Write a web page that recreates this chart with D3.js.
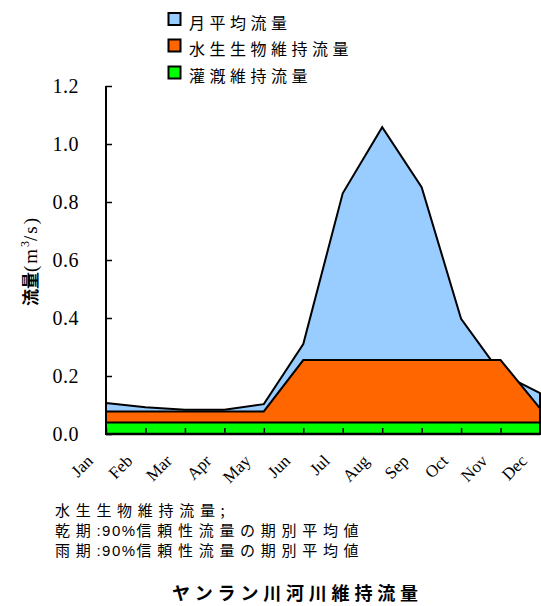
<!DOCTYPE html>
<html>
<head>
<meta charset="utf-8">
<script src="https://cdn.jsdelivr.net/npm/d3@7/dist/d3.min.js"></script>
<style>
  html, body { margin: 0; padding: 0; background: #fff; }
  svg { display: block; }
</style>
</head>
<body>
<script>
// ---- data ----
const months = ["Jan","Feb","Mar","Apr","May","Jun","Jul","Aug","Sep","Oct","Nov","Dec"];
const monthlyFlow    = [0.107, 0.092, 0.084, 0.084, 0.103, 0.31, 0.83, 1.058, 0.851, 0.397, 0.21, 0.141];
const aquaticFlow    = [0.078, 0.078, 0.078, 0.078, 0.078, 0.255, 0.255, 0.255, 0.255, 0.255, 0.255, 0.088];
const irrigationFlow = [0.04, 0.04, 0.04, 0.04, 0.04, 0.04, 0.04, 0.04, 0.04, 0.04, 0.04, 0.04];
const yTicks = [0, 0.2, 0.4, 0.6, 0.8, 1.0, 1.2];
const seriesNames = ["月平均流量", "水生生物維持流量", "灌漑維持流量"];
const seriesColors = ["#99CCFF", "#FF6600", "#00FF00"];
const noteHeader = "水生生物維持流量;";
const noteRows = [["乾期", ":90%", "信頼性流量の期別平均値"], ["雨期", ":90%", "信頼性流量の期別平均値"]];
const chartTitle = "ヤンラン川河川維持流量";
const yTitle = ["流量", "(m", "3", "/s)"];

// ---- layout ----
const W = 541, H = 606;
const CJK = "'Noto Sans CJK JP', 'Noto Sans CJK SC', sans-serif";
const SERIF = "'Liberation Serif', 'Times New Roman', serif";

const svg = d3.select("body").append("svg").attr("width", W).attr("height", H);

const x = d3.scalePoint().domain(months).range([106, 540]);
const y = d3.scaleLinear().domain([0, 1.2]).range([434, 86]);

const seriesData = [monthlyFlow, aquaticFlow, irrigationFlow];
const area = d3.area()
  .x((d, i) => x(months[i]))
  .y0(y(0))
  .y1(d => y(d));

seriesData.forEach((vals, k) => {
  svg.append("path")
    .datum(vals)
    .attr("d", area)
    .attr("fill", seriesColors[k])
    .attr("stroke", "#000")
    .attr("stroke-width", 2)
    .attr("stroke-linejoin", "miter");
});

// y axis (ticks pointing inward)
const yAxis = svg.append("g").attr("transform", `translate(${x(months[0])},0)`)
  .call(d3.axisRight(y).tickValues(yTicks).tickSize(6).tickFormat(""));
yAxis.select(".domain").attr("stroke", "#000").attr("stroke-width", 2).attr("d", `M0,${y(1.2)}V${y(0)}`);
yAxis.selectAll(".tick line").attr("stroke", "#000").attr("stroke-width", 1.5);

svg.append("g").selectAll("text").data(yTicks).join("text")
  .attr("x", 79)
  .attr("y", d => y(d))
  .attr("dy", "0.35em")
  .attr("text-anchor", "end")
  .attr("font-family", SERIF)
  .attr("font-size", 20)
  .attr("letter-spacing", 0.5)
  .attr("fill", "#000")
  .text(d => d.toFixed(1));

// x axis (ticks pointing inward/up)
const xAxis = svg.append("g").attr("transform", `translate(0,${y(0)})`)
  .call(d3.axisTop(x).tickSize(6).tickFormat(""));
xAxis.select(".domain").attr("stroke", "#000").attr("stroke-width", 2.5).attr("d", `M${x(months[0])},0H${x(months[11])}`);
xAxis.selectAll(".tick line").attr("stroke", "#000").attr("stroke-width", 1.5);

svg.append("g").selectAll("text").data(months).join("text")
  .attr("transform", d => `translate(${x(d) - 12},${y(0) + 28}) rotate(-45)`)
  .attr("text-anchor", "end")
  .style("font-family", SERIF)
  .style("font-size", "17px")
  .attr("fill", "#000")
  .text(d => d);

// y title
const yt = svg.append("text")
  .attr("transform", "translate(37,261) rotate(-90)")
  .attr("text-anchor", "middle")
  .attr("fill", "#000");
yt.append("tspan").attr("font-family", CJK).attr("font-weight", "bold").attr("font-size", 17).text(yTitle[0]);
yt.append("tspan").attr("font-family", SERIF).attr("font-size", 19).attr("letter-spacing", 2).text(yTitle[1]);
yt.append("tspan").attr("font-family", SERIF).attr("font-size", 12).attr("dy", -8).text(yTitle[2]);
yt.append("tspan").attr("font-family", SERIF).attr("font-size", 19).attr("dy", 8).attr("letter-spacing", 2).text(yTitle[3]);

// legend
const leg = svg.append("g");
const legY = [19.5, 46, 73];
seriesNames.forEach((name, i) => {
  leg.append("rect")
    .attr("x", 168.5).attr("y", legY[i] - 6.5)
    .attr("width", 12).attr("height", 12)
    .attr("fill", seriesColors[i])
    .attr("stroke", "#000").attr("stroke-width", 2);
  leg.append("text")
    .attr("x", 189).attr("y", legY[i] + 9)
    .attr("font-family", CJK).attr("font-size", 16)
    .attr("letter-spacing", 4.5)
    .attr("fill", "#000")
    .text(name);
});

// notes
const notes = svg.append("g").attr("font-family", CJK).attr("font-size", 15).attr("fill", "#000");
notes.append("text").attr("x", 55).attr("y", 515.5).attr("letter-spacing", 5.7).text(noteHeader);
noteRows.forEach((row, i) => {
  const t = notes.append("text").attr("x", 55).attr("y", 535.5 + i * 20);
  t.append("tspan").attr("letter-spacing", 5.7).text(row[0]);
  t.append("tspan").attr("font-family", "'Liberation Sans', Arial, sans-serif").attr("letter-spacing", 1.5).text(row[1]);
  t.append("tspan").attr("letter-spacing", 5.7).text(row[2]);
});

// title
svg.append("text")
  .attr("x", 172).attr("y", 600)
  .attr("font-family", CJK).attr("font-size", 18).attr("font-weight", "bold")
  .attr("letter-spacing", 4.8)
  .attr("fill", "#000")
  .text(chartTitle);
</script>
</body>
</html>
